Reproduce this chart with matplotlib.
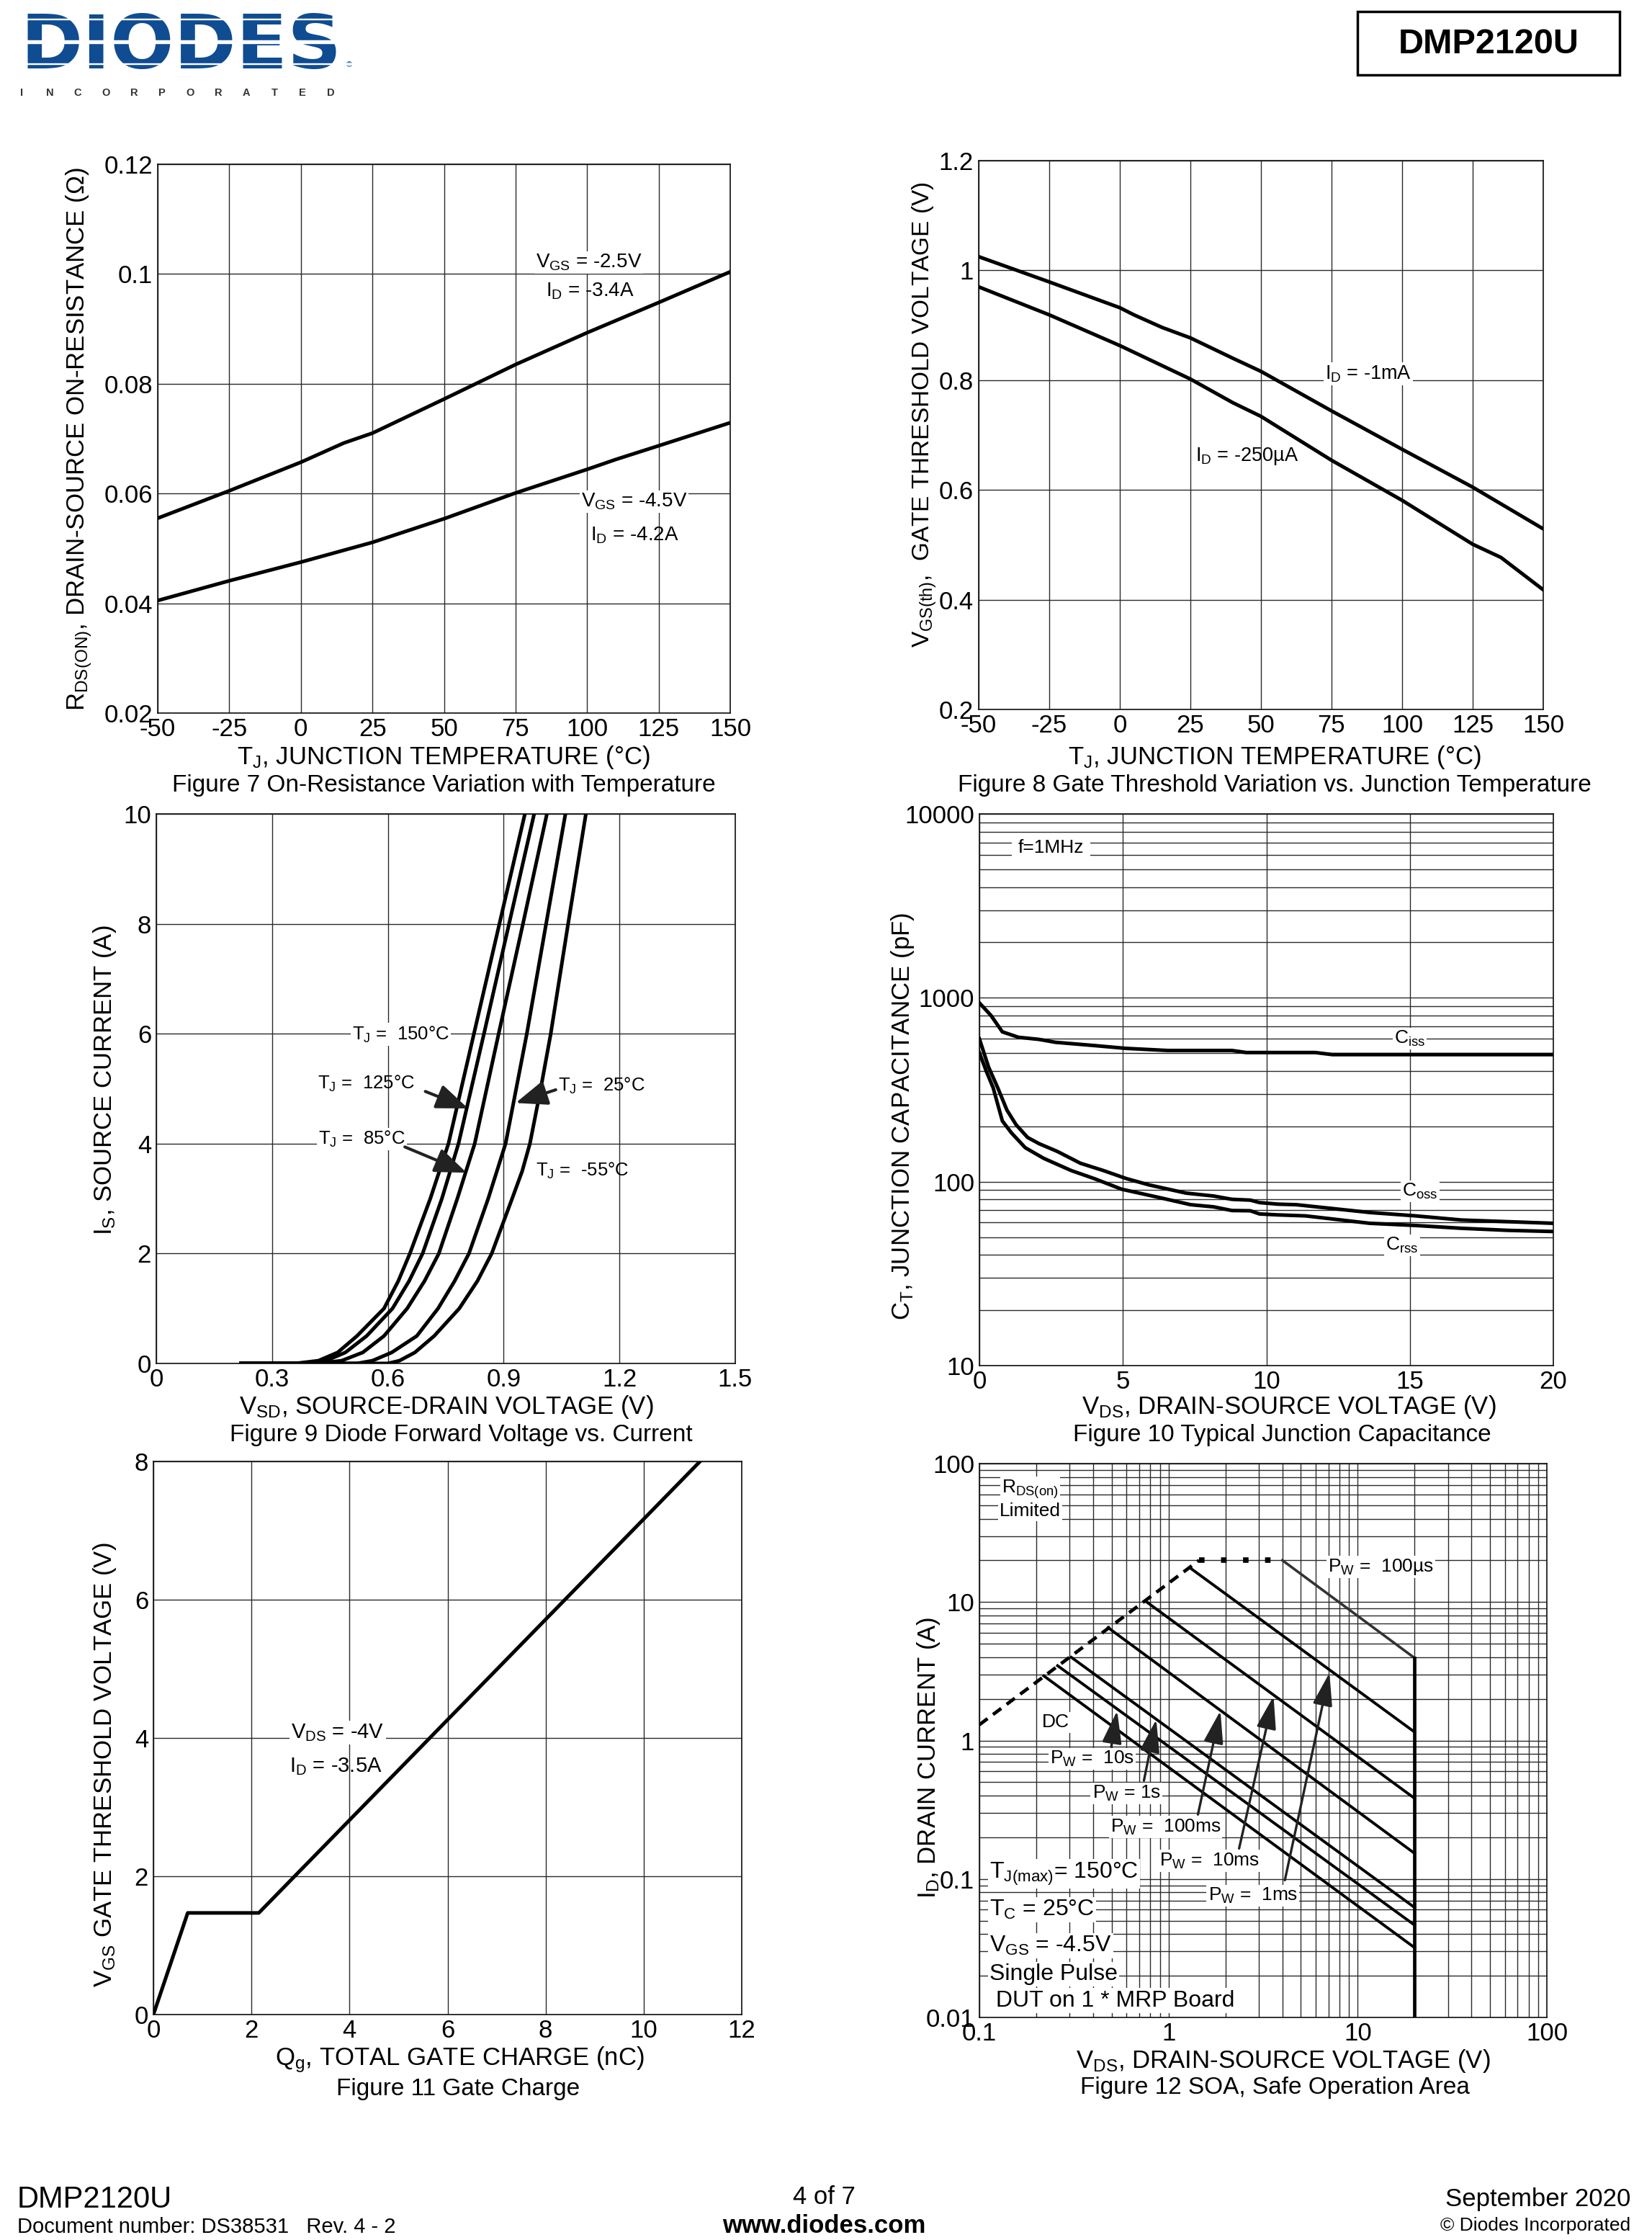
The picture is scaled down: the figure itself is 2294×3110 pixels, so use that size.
import matplotlib
matplotlib.use('Agg')
import matplotlib.pyplot as plt
from matplotlib.ticker import LogLocator, NullFormatter
from matplotlib.patches import Rectangle

plt.rcParams['font.family'] = ['Liberation Sans', 'DejaVu Sans']
plt.rcParams['mathtext.fontset'] = 'custom'
plt.rcParams['mathtext.rm'] = 'Liberation Sans'
plt.rcParams['mathtext.it'] = 'Liberation Sans:italic'
plt.rcParams['mathtext.bf'] = 'Liberation Sans:bold'
plt.rcParams['mathtext.default'] = 'regular'

# ---- Figure 7: on-resistance vs temperature
t7_a = [-50, -25, 0, 15, 25, 50, 75, 100, 125, 150]
r_vgs25 = [0.0555, 0.0605, 0.0657, 0.0692, 0.0710, 0.0772, 0.0835, 0.0893, 0.0948, 0.1004]
t7_b = [-50, -25, 0, 25, 50, 75, 100, 110, 125, 150]
r_vgs45 = [0.0405, 0.0441, 0.0475, 0.0511, 0.0554, 0.0601, 0.0644, 0.0662, 0.0687, 0.0729]

# ---- Figure 8: gate threshold vs temperature
t8_a = [-50, -25, 0, 5, 15, 25, 40, 50, 75, 100, 125, 150]
vth_1ma = [1.025, 0.979, 0.932, 0.919, 0.896, 0.877, 0.840, 0.816, 0.744, 0.674, 0.605, 0.529]
t8_b = [-50, -25, 0, 25, 40, 50, 75, 100, 125, 135, 150]
vth_250ua = [0.970, 0.919, 0.863, 0.802, 0.759, 0.734, 0.654, 0.581, 0.501, 0.477, 0.418]

# ---- Figure 9: diode forward voltage vs current
i_s = [0, 0, 0.05, 0.2, 0.5, 1, 1.5, 2, 3, 4, 6, 8, 10]
vsd_150 = [0.22, 0.36, 0.42, 0.47, 0.52, 0.59, 0.627, 0.657, 0.71, 0.757, 0.823, 0.889, 0.955]
vsd_125 = [0.22, 0.37, 0.44, 0.49, 0.545, 0.612, 0.655, 0.69, 0.74, 0.783, 0.849, 0.914, 0.979]
vsd_85 = [0.22, 0.42, 0.48, 0.535, 0.59, 0.65, 0.695, 0.732, 0.78, 0.825, 0.887, 0.95, 1.012]
vsd_25 = [0.22, 0.52, 0.56, 0.61, 0.675, 0.73, 0.773, 0.81, 0.86, 0.905, 0.96, 1.01, 1.06]
i_m55 = [0, 0, 0.05, 0.2, 0.5, 1, 1.5, 2, 3, 3.5, 4, 5, 6, 8, 10]
vsd_m55 = [0.22, 0.60, 0.63, 0.67, 0.72, 0.785, 0.832, 0.869, 0.922, 0.948, 0.968, 0.996, 1.022,
           1.067, 1.113]

# ---- Figure 10: junction capacitance
v_iss = [0, 0.4, 0.8, 1.36, 2.08, 2.64, 4, 5.1, 6.56, 8.8, 9.3, 11.7, 12.3, 20]
c_iss = [938, 803, 653, 610, 594, 573, 550, 531, 517, 517, 504, 504, 491, 491]
v_oss = [0, 0.32, 0.64, 0.96, 1.28, 1.68, 2.08, 2.72, 3.52, 4.32, 5.12, 5.92, 7.2, 8.16,
         8.8, 9.44, 9.76, 10.4, 11.04, 12, 13.6, 15.2, 16.8, 20]
c_oss = [598, 420, 324, 245, 204, 174, 161, 146, 126, 115, 104, 96, 86.7, 83.6,
         80.2, 79.4, 77, 75.5, 75, 72.3, 68, 65.2, 61.9, 59.4]
v_rss = [0, 0.24, 0.48, 0.8, 1.12, 1.6, 2.24, 3.2, 4, 4.96, 6.24, 7.36, 8.16, 8.8,
         9.44, 9.76, 10.4, 11.36, 12, 13.6, 15.2, 16.8, 18.4, 20]
c_rss = [503, 399, 324, 214, 184, 153, 134, 115, 104, 91, 82.2, 75, 73, 69.7,
         69.5, 66.8, 66, 65.2, 63.5, 59.4, 57.8, 55.8, 54.4, 53.6]

# ---- Figure 11: gate charge
qg = [0, 0.7, 2.15, 11.15]
vgs = [0, 1.47, 1.47, 8.0]

# ---- Figure 12: SOA
rds_v = [0.1, 1.45]
rds_i = [1.3, 20]
flat_v = [1.45, 4.0]
flat_i = [20, 20]
pw100us_v = [4.0, 20, 20]
pw100us_i = [20, 3.94, 0.01]
pulse_names = ['1ms', '10ms', '100ms', '1s', '10s', 'DC']
pulse_v0 = [1.31, 0.771, 0.479, 0.306, 0.259, 0.219]
pulse_i0 = [17.5, 9.95, 6.53, 3.99, 3.47, 2.93]
pulse_i1 = [1.15, 0.382, 0.153, 0.0622, 0.0464, 0.0319]

W, H = 2294, 3110
fig = plt.figure(figsize=(W / 100, H / 100), dpi=100)
GRID = '#2a2a2a'
LINE = 'black'
WB = dict(facecolor='white', edgecolor='none', pad=1.5)


def px_ax(l, t, r, b):
    return fig.add_axes([l / W, 1 - b / H, (r - l) / W, (b - t) / H])


def ptext(x, y, s, **kw):
    kw.setdefault('ha', 'center')
    kw.setdefault('va', 'center')
    fig.text(x / W, 1 - y / H, s, **kw)


def style(ax, xt, xl, yt, yl, xlim, ylim, grid=True):
    ax.set_xlim(xlim)
    ax.set_ylim(ylim)
    ax.set_xticks(xt)
    ax.set_xticklabels(xl)
    ax.set_yticks(yt)
    ax.set_yticklabels(yl)
    ax.tick_params(which='both', length=0, labelsize=25)
    ax.tick_params(axis='x', pad=4)
    ax.tick_params(axis='y', pad=5)
    for lbl in ax.get_yticklabels():
        lbl.set_verticalalignment('center_baseline')
    if grid:
        ax.grid(True, color=GRID, lw=1.0)
    for s in ax.spines.values():
        s.set_linewidth(1.2)
        s.set_color('#111111')


# ---------------- header
ptext(252, 95, 'DIODES', fontsize=75, fontweight='bold', color='#0f4c92',
      family='DejaVu Sans', va='baseline')
for yy, hh in [(60, 3.5), (27, 1.5), (89, 1.5)]:
    fig.patches.append(Rectangle((18 / W, 1 - yy / H), 480 / W, hh / H, transform=fig.transFigure,
                                 color='white', zorder=5))
ptext(485, 93, '®', fontsize=8, color='#0f4c92', va='baseline')
for k, ch in enumerate('INCORPORATED'):
    ptext(30 + k * 39, 129, ch, fontsize=10.5, fontweight='bold', color='#333333')
fig.patches.append(Rectangle((1885 / W, 1 - 104 / H), 364 / W, 88 / H, transform=fig.transFigure,
                             fill=False, ec='black', lw=2.5))
ptext(2067, 61, 'DMP2120U', fontsize=35, fontweight='bold')

# ---------------- Figure 7
ax7 = px_ax(219, 228, 1014, 990)
style(ax7, [-50, -25, 0, 25, 50, 75, 100, 125, 150],
      ['-50', '-25', '0', '25', '50', '75', '100', '125', '150'],
      [0.02, 0.04, 0.06, 0.08, 0.1, 0.12], ['0.02', '0.04', '0.06', '0.08', '0.1', '0.12'],
      (-50, 150), (0.02, 0.12))
ax7.plot(t7_a, r_vgs25, color=LINE, lw=3.6, zorder=3)
ax7.plot(t7_b, r_vgs45, color=LINE, lw=3.6, zorder=3)
ax7.text(100.5, 0.1021, r'V$_{GS}$ = -2.5V', fontsize=20, ha='center', va='center', bbox=WB)
ax7.text(101, 0.0969, r'I$_D$ = -3.4A', fontsize=20, ha='center', va='center')
ax7.text(116.5, 0.0585, r'V$_{GS}$ = -4.5V', fontsize=20, ha='center', va='center', bbox=WB)
ax7.text(116.5, 0.0524, r'I$_D$ = -4.2A', fontsize=20, ha='center', va='center')
ptext(110, 610, r'R$_{DS(ON)}$, DRAIN-SOURCE ON-RESISTANCE (Ω)', fontsize=25, rotation=90)
ptext(616, 1052, r'T$_J$, JUNCTION TEMPERATURE (°C)', fontsize=25)
ptext(616, 1090, 'Figure 7 On-Resistance Variation with Temperature', fontsize=24)

# ---------------- Figure 8
ax8 = px_ax(1359, 223, 2143, 985)
style(ax8, [-50, -25, 0, 25, 50, 75, 100, 125, 150],
      ['-50', '-25', '0', '25', '50', '75', '100', '125', '150'],
      [0.2, 0.4, 0.6, 0.8, 1.0, 1.2], ['0.2', '0.4', '0.6', '0.8', '1', '1.2'],
      (-50, 150), (0.2, 1.2))
ax8.plot(t8_a, vth_1ma, color=LINE, lw=3.6, zorder=3)
ax8.plot(t8_b, vth_250ua, color=LINE, lw=3.6, zorder=3)
ax8.text(88, 0.8115, r'I$_D$ = -1mA', fontsize=19.5, ha='center', va='center', bbox=WB)
ax8.text(45, 0.661, r'I$_D$ = -250µA', fontsize=19.5, ha='center', va='center')
ptext(1284, 576, r'V$_{GS(th)}$,  GATE THRESHOLD VOLTAGE (V)', fontsize=24, rotation=90)
ptext(1770, 1052, r'T$_J$, JUNCTION TEMPERATURE (°C)', fontsize=25)
ptext(1770, 1090, 'Figure 8 Gate Threshold Variation vs. Junction Temperature', fontsize=24)

# ---------------- Figure 9
ax9 = px_ax(217, 1130, 1021, 1893)
style(ax9, [0, 0.3, 0.6, 0.9, 1.2, 1.5], ['0', '0.3', '0.6', '0.9', '1.2', '1.5'],
      [0, 2, 4, 6, 8, 10], ['0', '2', '4', '6', '8', '10'], (0, 1.5), (0, 10))
for vv in [vsd_150, vsd_125, vsd_85, vsd_25]:
    ax9.plot(vv, i_s, color=LINE, lw=3.6, zorder=3, solid_joinstyle='round')
ax9.plot(vsd_m55, i_m55, color=LINE, lw=3.6, zorder=3, solid_joinstyle='round')
ax9.text(0.634, 5.99, r'T$_J$ =  150°C', fontsize=18.5, ha='center', va='center', bbox=WB)
ax9.text(0.543, 5.09, r'T$_J$ =  125°C', fontsize=18.5, ha='center', va='center')
ax9.text(0.532, 4.08, r'T$_J$ =  85°C', fontsize=18.5, ha='center', va='center', bbox=WB)
ax9.text(1.153, 5.05, r'T$_J$ =  25°C', fontsize=18.5, ha='center', va='center')
ax9.text(1.104, 3.51, r'T$_J$ =  -55°C', fontsize=18.5, ha='center', va='center')
arr9 = dict(arrowstyle='-|>,head_length=0.9,head_width=0.35', lw=3, color='#222222',
            mutation_scale=30, shrinkA=0, shrinkB=0)
ax9.annotate('', xy=(0.808, 4.64), xytext=(0.697, 4.95), arrowprops=arr9, zorder=4)
ax9.annotate('', xy=(0.804, 3.47), xytext=(0.644, 3.94), arrowprops=arr9, zorder=4)
ax9.annotate('', xy=(0.931, 4.74), xytext=(1.035, 4.98), arrowprops=arr9, zorder=4)
ptext(146, 1500, r'I$_S$, SOURCE CURRENT (A)', fontsize=25, rotation=90)
ptext(620, 1954, r'V$_{SD}$, SOURCE-DRAIN VOLTAGE (V)', fontsize=25)
ptext(640, 1992, 'Figure 9 Diode Forward Voltage vs. Current', fontsize=24)

# ---------------- Figure 10
ax10 = px_ax(1360, 1130, 2157, 1896)
ax10.set_yscale('log')
style(ax10, [0, 5, 10, 15, 20], ['0', '5', '10', '15', '20'],
      [10, 100, 1000, 10000], ['10', '100', '1000', '10000'], (0, 20), (10, 10000), grid=False)
ax10.yaxis.set_minor_locator(LogLocator(base=10, subs=range(2, 10)))
ax10.yaxis.set_minor_formatter(NullFormatter())
ax10.grid(True, which='both', axis='y', color=GRID, lw=1.0)
ax10.grid(True, which='major', axis='x', color=GRID, lw=1.0)
ax10.plot(v_iss, c_iss, color=LINE, lw=3.6, zorder=3)
ax10.plot(v_oss, c_oss, color=LINE, lw=3.6, zorder=3)
ax10.plot(v_rss, c_rss, color=LINE, lw=3.6, zorder=3)
ax10.text(15.0, 600, r'C$_{iss}$', fontsize=19, ha='center', va='center', bbox=WB)
ax10.text(15.36, 88.7, r'C$_{oss}$', fontsize=19, ha='center', va='center', bbox=WB)
ax10.text(14.73, 45, r'C$_{rss}$', fontsize=19, ha='center', va='center', bbox=WB)
ax10.text(2.5, 6546, 'f=1MHz', fontsize=19, ha='center', va='center', bbox=dict(fc='white', ec='none', pad=6))
ptext(1254, 1550, r'C$_T$, JUNCTION CAPACITANCE (pF)', fontsize=25, rotation=90)
ptext(1790, 1954, r'V$_{DS}$, DRAIN-SOURCE VOLTAGE (V)', fontsize=25)
ptext(1780, 1992, 'Figure 10 Typical Junction Capacitance', fontsize=24)

# ---------------- Figure 11
ax11 = px_ax(213, 2029, 1030, 2797)
style(ax11, [0, 2, 4, 6, 8, 10, 12], ['0', '2', '4', '6', '8', '10', '12'],
      [0, 2, 4, 6, 8], ['0', '2', '4', '6', '8'], (0, 12), (0, 8))
ax11.plot(qg, vgs, color=LINE, lw=3.6, zorder=3)
ax11.text(3.76, 4.08, r'V$_{DS}$ = -4V', fontsize=21, ha='center', va='center', bbox=WB)
ax11.text(3.72, 3.59, r'I$_D$ = -3.5A', fontsize=21, ha='center', va='center')
ptext(146, 2450, r'V$_{GS}$ GATE THRESHOLD VOLTAGE (V)', fontsize=25, rotation=90)
ptext(638, 2860, r'Q$_g$, TOTAL GATE CHARGE (nC)', fontsize=25)
ptext(636, 2900, 'Figure 11 Gate Charge', fontsize=24)

# ---------------- Figure 12
ax12 = px_ax(1360, 2032, 2148, 2801)
ax12.set_xscale('log')
ax12.set_yscale('log')
style(ax12, [0.1, 1, 10, 100], ['0.1', '1', '10', '100'],
      [0.01, 0.1, 1, 10, 100], ['0.01', '0.1', '1', '10', '100'], (0.1, 100), (0.01, 100), grid=False)
for axis in [ax12.xaxis, ax12.yaxis]:
    axis.set_minor_locator(LogLocator(base=10, subs=range(2, 10)))
    axis.set_minor_formatter(NullFormatter())
ax12.grid(True, which='both', color=GRID, lw=1.0)
ax12.plot(rds_v, rds_i, color=LINE, lw=3.4, linestyle=(0, (3, 2)), zorder=3)
ax12.plot(flat_v, flat_i, color=LINE, lw=5.5, linestyle=(0, (1, 3)), zorder=3)
ax12.plot(pw100us_v[:2], pw100us_i[:2], color='#333333', lw=2.6, zorder=3)
ax12.plot(pw100us_v[1:], pw100us_i[1:], color=LINE, lw=3.4, zorder=3)
for v0, i0, i1 in zip(pulse_v0, pulse_i0, pulse_i1):
    ax12.plot([v0, 20], [i0, i1], color=LINE, lw=2.8, zorder=3)
arr12 = dict(arrowstyle='-|>,head_length=1.0,head_width=0.3', lw=2.4, color='#222222',
             mutation_scale=28, shrinkA=0, shrinkB=0)
ax12.annotate('', xy=(0.535, 1.64), xytext=(0.498, 0.90), arrowprops=arr12, zorder=4)
ax12.annotate('', xy=(0.861, 1.42), xytext=(0.741, 0.513), arrowprops=arr12, zorder=4)
ax12.annotate('', xy=(1.88, 1.64), xytext=(1.43, 0.292), arrowprops=arr12, zorder=4)
ax12.annotate('', xy=(3.59, 2.09), xytext=(2.36, 0.166), arrowprops=arr12, zorder=4)
ax12.annotate('', xy=(7.09, 3.08), xytext=(4.12, 0.098), arrowprops=arr12, zorder=4)
ax12.text(0.185, 65.6, r'R$_{DS(on)}$', fontsize=19, ha='center', va='center', bbox=WB, zorder=5)
ax12.text(0.185, 45.5, 'Limited', fontsize=19, ha='center', va='center', bbox=WB, zorder=5)
ax12.text(0.252, 1.35, 'DC', fontsize=19, ha='center', va='center', bbox=WB, zorder=5)
ax12.text(0.394, 0.739, r'P$_W$ =  10s', fontsize=19, ha='center', va='center', bbox=WB, zorder=5)
ax12.text(0.598, 0.415, r'P$_W$ = 1s', fontsize=19, ha='center', va='center', bbox=WB, zorder=5)
ax12.text(0.964, 0.237, r'P$_W$ =  100ms', fontsize=19, ha='center', va='center', bbox=WB, zorder=5)
ax12.text(1.64, 0.135, r'P$_W$ =  10ms', fontsize=19, ha='center', va='center', bbox=WB, zorder=5)
ax12.text(2.79, 0.0757, r'P$_W$ =  1ms', fontsize=19, ha='center', va='center', bbox=WB, zorder=5)
ax12.text(13.3, 17.9, r'P$_W$ =  100µs', fontsize=19, ha='center', va='center', bbox=WB, zorder=5)
cond = [(0.109, r'T$_{J(max)}$= 150°C'), (0.060, r'T$_C$ = 25°C'), (0.033, r'V$_{GS}$ = -4.5V'),
        (0.0205, 'Single Pulse'), (0.01325, ' DUT on 1 * MRP Board')]
for yy, s in cond:
    ax12.text(0.113, yy, s, fontsize=23, ha='left', va='center', bbox=WB, zorder=5)
ptext(1290, 2440, r'I$_D$, DRAIN CURRENT (A)', fontsize=25, rotation=90)
ptext(1782, 2862, r'V$_{DS}$, DRAIN-SOURCE VOLTAGE (V)', fontsize=25)
ptext(1770, 2898, 'Figure 12 SOA, Safe Operation Area', fontsize=24)

# ---------------- footer
ptext(24, 3054, 'DMP2120U', fontsize=30, ha='left')
ptext(24, 3092, 'Document number: DS38531   Rev. 4 - 2', fontsize=21, ha='left')
ptext(1144, 3050, '4 of 7', fontsize=25)
ptext(1144, 3090, 'www.diodes.com', fontsize=25, fontweight='bold')
ptext(2264, 3054, 'September 2020', fontsize=25, ha='right')
ptext(2264, 3090, '© Diodes Incorporated', fontsize=19, ha='right')

fig.savefig('out.png', dpi=100)
